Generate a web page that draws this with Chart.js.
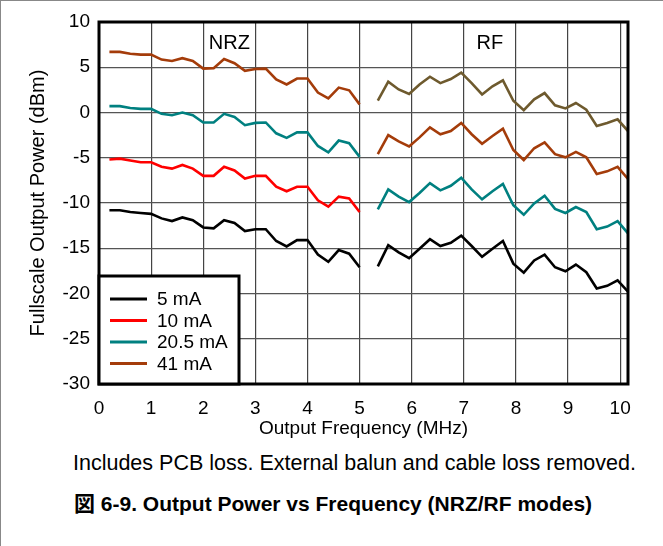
<!DOCTYPE html>
<html lang="en">
<head>
  <meta charset="UTF-8">
  <title>Output Power vs Frequency</title>
  <script src="https://cdn.jsdelivr.net/npm/chart.js"></script>
  <style>
    body {
      margin: 0;
      background: #fff;
      font-family: "Liberation Sans", "Noto Sans CJK JP", sans-serif;
    }
    .page {
      position: relative;
      width: 662px;
      height: 545px;
      border-left: 1px solid #888;
      border-top: 1px solid #888;
    }
    .wrap {
      position: absolute;
      left: -1px;
      top: -1px;
      width: 663px;
      height: 440px;
    }
    .note {
      position: absolute;
      left: 72px;
      top: 450px;
      font-size: 21.5px;
      color: #000;
      white-space: nowrap;
    }
    .caption {
      position: absolute;
      left: 73px;
      top: 486px;
      font-size: 21px;
      font-weight: bold;
      color: #000;
      white-space: nowrap;
    }
  </style>
</head>
<body>
  <div class="page">
    <div class="wrap"><canvas id="powerChart"></canvas></div>
    <div class="note">Includes PCB loss. External balun and cable loss removed.</div>
    <div class="caption">図 6-9. Output Power vs Frequency (NRZ/RF modes)</div>
  </div>

  <script>
    // NRZ mode: 0.2 .. 5.0 MHz
    const nrzFreq = [0.2, 0.4, 0.6, 0.8, 1.0, 1.2, 1.4, 1.6, 1.8, 2.0, 2.2, 2.4, 2.6,
                     2.8, 3.0, 3.2, 3.4, 3.6, 3.8, 4.0, 4.2, 4.4, 4.6, 4.8, 5.0];
    const nrz5mA   = [-10.8, -10.8, -11.0, -11.1, -11.2, -11.7, -12.0, -11.6, -11.9, -12.7, -12.8, -11.9, -12.2,
                      -13.1, -12.9, -12.9, -14.2, -14.8, -14.1, -14.1, -15.7, -16.5, -15.2, -15.6, -17.1];
    const nrz10mA  = [-5.2, -5.1, -5.3, -5.5, -5.5, -6.0, -6.2, -5.8, -6.2, -7.0, -7.0, -6.0, -6.4,
                      -7.3, -7.0, -7.0, -8.2, -8.7, -8.2, -8.2, -9.7, -10.4, -9.3, -9.5, -11.0];
    const nrz20mA  = [0.7, 0.7, 0.5, 0.4, 0.4, -0.15, -0.3, 0.0, -0.3, -1.1, -1.1, -0.15, -0.5,
                      -1.4, -1.15, -1.1, -2.3, -2.8, -2.2, -2.2, -3.7, -4.4, -3.1, -3.4, -4.9];
    const nrz41mA  = [6.7, 6.7, 6.5, 6.4, 6.4, 5.85, 5.7, 6.0, 5.7, 4.85, 4.9, 5.9, 5.45,
                      4.6, 4.8, 4.85, 3.65, 3.1, 3.75, 3.75, 2.2, 1.55, 2.75, 2.45, 0.9];

    // RF mode: 5.35 .. 10.15 MHz
    const rfFreq = [5.35, 5.55, 5.75, 5.95, 6.15, 6.35, 6.55, 6.75, 6.95, 7.15, 7.35, 7.55, 7.75,
                    7.95, 8.15, 8.35, 8.55, 8.75, 8.95, 9.15, 9.35, 9.55, 9.75, 9.95, 10.15];
    const rfBlack  = [-17.0, -14.65, -15.45, -16.1, -15.05, -14.0, -14.75, -14.4, -13.6, -14.75, -15.95, -15.05, -14.2,
                      -16.7, -17.7, -16.35, -15.7, -17.1, -17.55, -16.8, -17.65, -19.45, -19.15, -18.55, -19.8];
    const rfTeal   = [-10.7, -8.5, -9.3, -9.9, -8.9, -7.8, -8.6, -8.1, -7.2, -8.5, -9.6, -8.7, -7.9,
                      -10.25, -11.3, -10.05, -9.2, -10.65, -11.1, -10.45, -11.0, -12.9, -12.6, -12.0, -13.35];
    const rfBrown  = [-4.6, -2.5, -3.2, -3.75, -2.75, -1.65, -2.4, -2.05, -1.15, -2.4, -3.45, -2.6, -1.8,
                      -4.15, -5.25, -3.95, -3.3, -4.6, -4.95, -4.35, -4.95, -6.8, -6.5, -6.0, -7.35];
    const rfOlive  = [1.3, 3.4, 2.55, 2.05, 3.1, 3.95, 3.25, 3.7, 4.4, 3.25, 2.0, 2.9, 3.55,
                      1.3, 0.25, 1.45, 2.15, 0.8, 0.45, 1.05, 0.3, -1.5, -1.15, -0.75, -2.05];

    const legendLabels = ["5 mA", "10 mA", "20.5 mA", "41 mA"];
    const xTicks = [0, 1, 2, 3, 4, 5, 6, 7, 8, 9, 10];
    const yTicks = [10, 5, 0, -5, -10, -15, -20, -25, -30];

    const BLACK = "#000000", RED = "#ff0000", TEAL = "#008080", BROWN = "#a43c0a", OLIVE = "#6e5a2e";

    const pts = (xs, ys) => xs.map((x, i) => ({ x: x, y: ys[i] }));
    const line = (label, xs, ys, color, inLegend) => ({
      label: label,
      data: pts(xs, ys),
      borderColor: color,
      backgroundColor: color,
      borderWidth: 2.6,
      pointRadius: 0,
      fill: false,
      tension: 0,
      inLegend: inLegend
    });

    const datasets = [
      line(legendLabels[0], nrzFreq, nrz5mA, BLACK, true),
      line(legendLabels[1], nrzFreq, nrz10mA, RED, true),
      line(legendLabels[2], nrzFreq, nrz20mA, TEAL, true),
      line(legendLabels[3], nrzFreq, nrz41mA, BROWN, true),
      line("RF 1", rfFreq, rfBlack, BLACK, false),
      line("RF 2", rfFreq, rfTeal, TEAL, false),
      line("RF 3", rfFreq, rfBrown, BROWN, false),
      line("RF 4", rfFreq, rfOlive, OLIVE, false)
    ];

    const FONT = "Liberation Sans";

    // frame, mode labels and the boxed legend
    const extras = {
      id: "extras",
      afterDatasetsDraw(chart) {
        const ctx = chart.ctx, a = chart.chartArea;
        const xs = chart.scales.x, ys = chart.scales.y;
        ctx.save();
        ctx.fillStyle = "#000";
        ctx.font = "20px " + FONT;
        ctx.textAlign = "center";
        ctx.textBaseline = "middle";
        ctx.fillText("NRZ", xs.getPixelForValue(2.5), ys.getPixelForValue(7.6));
        ctx.fillText("RF", xs.getPixelForValue(7.5), ys.getPixelForValue(7.6));

        ctx.strokeStyle = "#000";
        ctx.lineWidth = 3;
        ctx.strokeRect(a.left, a.top, a.right - a.left, a.bottom - a.top);

        // legend box in the lower-left corner
        const bw = 140, bh = 108;
        const bx = a.left, by = a.bottom - bh;
        ctx.fillStyle = "#fff";
        ctx.fillRect(bx, by, bw, bh);
        ctx.lineWidth = 3;
        ctx.strokeRect(bx, by, bw, bh);
        ctx.textAlign = "left";
        ctx.font = "19px " + FONT;
        chart.data.datasets.filter(d => d.inLegend).forEach((d, i) => {
          const yy = by + 23 + i * 21.5;
          ctx.strokeStyle = d.borderColor;
          ctx.lineWidth = 3;
          ctx.beginPath();
          ctx.moveTo(bx + 11, yy);
          ctx.lineTo(bx + 48, yy);
          ctx.stroke();
          ctx.fillStyle = "#000";
          ctx.fillText(d.label, bx + 58, yy + 1);
        });
        ctx.restore();
      }
    };

    new Chart(document.getElementById("powerChart"), {
      type: "line",
      data: { datasets: datasets },
      options: {
        responsive: true,
        maintainAspectRatio: false,
        animation: false,
        layout: { padding: { left: 0, top: 22, right: 35, bottom: 0 } },
        plugins: {
          legend: { display: false },
          tooltip: { enabled: false }
        },
        scales: {
          x: {
            type: "linear",
            min: 0,
            max: 10.15,
            afterFit: s => { s.height = 56; },
            afterBuildTicks: s => { s.ticks = xTicks.map(v => ({ value: v })); },
            ticks: { color: "#000", font: { family: FONT, size: 19 }, padding: 13, maxRotation: 0 },
            grid: { color: "#444", lineWidth: 1.2, drawTicks: false },
            border: { display: false },
            title: {
              display: true,
              text: "Output Frequency (MHz)",
              color: "#000",
              font: { family: FONT, size: 19 },
              padding: { top: 0, bottom: 0 }
            }
          },
          y: {
            min: -30,
            max: 10,
            afterFit: s => { s.width = 99; },
            afterBuildTicks: s => { s.ticks = yTicks.map(v => ({ value: v })); },
            ticks: { color: "#000", font: { family: FONT, size: 19 }, padding: 9 },
            grid: { color: "#555", lineWidth: 1.2, drawTicks: false },
            border: { display: false },
            title: {
              display: true,
              text: "Fullscale Output Power (dBm)",
              color: "#000",
              font: { family: FONT, size: 20 },
              padding: { top: 26, bottom: 0 }
            }
          }
        }
      },
      plugins: [extras]
    });
  </script>
</body>
</html>
